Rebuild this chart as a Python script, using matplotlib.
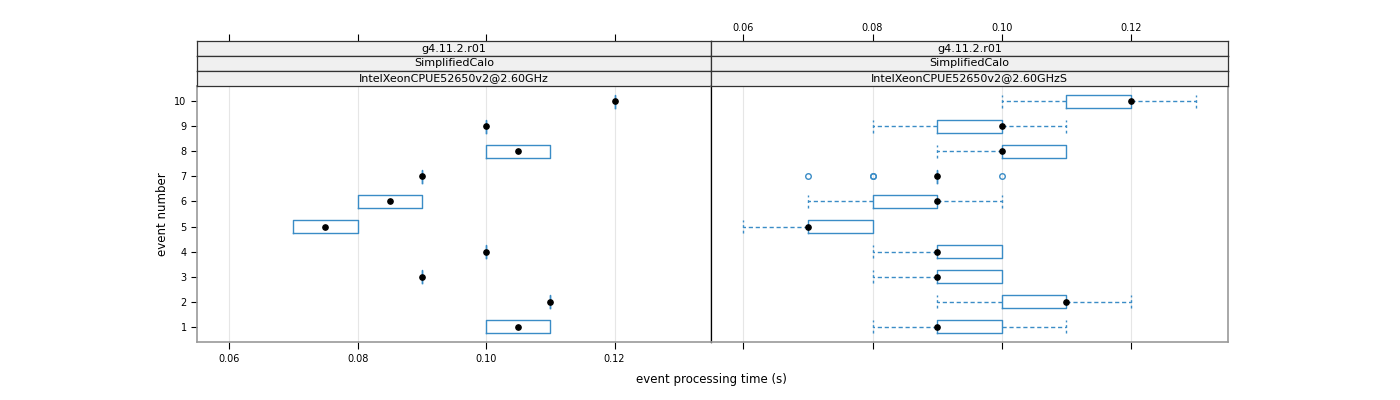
import matplotlib
matplotlib.use("Agg")
import matplotlib.pyplot as plt
import numpy as np

events = [1, 2, 3, 4, 5, 6, 7, 8, 9, 10]
xticks = [0.06, 0.08, 0.10, 0.12]
strips = ["g4.11.2.r01", "SimplifiedCalo"]
machines = ["IntelXeonCPUE52650v2@2.60GHz", "IntelXeonCPUE52650v2@2.60GHzS"]

# panel 1 (GHz)
p1_whislo = [0.10, 0.11, 0.09, 0.10, 0.07, 0.08, 0.09, 0.10, 0.10, 0.12]
p1_q1     = [0.10, 0.11, 0.09, 0.10, 0.07, 0.08, 0.09, 0.10, 0.10, 0.12]
p1_med    = [0.105, 0.11, 0.09, 0.10, 0.075, 0.085, 0.09, 0.105, 0.10, 0.12]
p1_q3     = [0.11, 0.11, 0.09, 0.10, 0.08, 0.09, 0.09, 0.11, 0.10, 0.12]
p1_whishi = [0.11, 0.11, 0.09, 0.10, 0.08, 0.09, 0.09, 0.11, 0.10, 0.12]
p1_fliers = [[], [], [], [], [], [], [], [], [], []]

# panel 2 (GHzS)
p2_whislo = [0.08, 0.09, 0.08, 0.08, 0.06, 0.07, 0.09, 0.09, 0.08, 0.10]
p2_q1     = [0.09, 0.10, 0.09, 0.09, 0.07, 0.08, 0.09, 0.10, 0.09, 0.11]
p2_med    = [0.09, 0.11, 0.09, 0.09, 0.07, 0.09, 0.09, 0.10, 0.10, 0.12]
p2_q3     = [0.10, 0.11, 0.10, 0.10, 0.08, 0.09, 0.09, 0.11, 0.10, 0.12]
p2_whishi = [0.11, 0.12, 0.10, 0.10, 0.08, 0.10, 0.09, 0.11, 0.11, 0.13]
p2_fliers = [[], [], [], [], [], [], [0.07, 0.08, 0.08, 0.10], [], [], []]

blue = "#3a8cc6"
border = "#9a9a9a"

fig = plt.figure(figsize=(14, 4), dpi=100)
W, H = 1400.0, 400.0
x0, xm, x1 = 197, 711, 1228
ytop, ybot = 86, 342
strip_h = 15

panels = [
    (x0, xm, p1_whislo, p1_q1, p1_med, p1_q3, p1_whishi, p1_fliers, machines[0], "bottom"),
    (xm, x1, p2_whislo, p2_q1, p2_med, p2_q3, p2_whishi, p2_fliers, machines[1], "top"),
]

for i, (l, r, wlo, q1, med, q3, whi, fl, mach, labside) in enumerate(panels):
    ax = fig.add_axes([l / W, 1 - ybot / H, (r - l) / W, (ybot - ytop) / H])
    stats = []
    for k in range(len(events)):
        stats.append({"whislo": wlo[k], "q1": q1[k], "med": med[k], "q3": q3[k],
                      "whishi": whi[k], "fliers": fl[k]})
    ax.bxp(stats, positions=events, vert=False, widths=0.52, showcaps=False,
           boxprops=dict(color=blue, lw=1.0),
           whiskerprops=dict(color=blue, lw=1.0, ls=(0, (3, 2))),
           medianprops=dict(lw=0),
           flierprops=dict(marker="o", mfc="none", mec=blue, ms=4, mew=1.0))
    # lattice-style dashed staples at whisker ends
    for k in range(len(events)):
        if whi[k] > q3[k]:
            ax.vlines(whi[k], events[k] - 0.26, events[k] + 0.26, color=blue, lw=1.0, ls=(0, (2, 2)))
        if wlo[k] < q1[k]:
            ax.vlines(wlo[k], events[k] - 0.26, events[k] + 0.26, color=blue, lw=1.0, ls=(0, (2, 2)))
    ax.plot(med, events, "o", color="black", ms=3.8, zorder=5)
    ax.set_xlim(0.055, 0.135)
    ax.set_ylim(0.4, 10.6)
    for t in xticks:
        ax.axvline(t, color="#e6e6e6", lw=0.8, zorder=0)
    ax.set_xticks(xticks)
    ax.set_xticklabels(["%.2f" % t for t in xticks], fontsize=7)
    ax.tick_params(axis="x", top=False, bottom=True, direction="out", length=5, width=0.8,
                   labeltop=False, labelbottom=(labside == "bottom"), pad=4)
    # top axis sits above the strips, as in lattice
    loc = 1 + 3 * strip_h / (ybot - ytop)
    sec = ax.secondary_xaxis(loc)
    sec.set_xticks(xticks)
    sec.set_xticklabels(["%.2f" % t for t in xticks], fontsize=7)
    sec.tick_params(axis="x", direction="out", length=5, width=0.8, pad=1,
                    labeltop=(labside == "top"))
    sec.spines["top"].set_visible(False)
    if i == 0:
        ax.set_yticks(events)
        ax.set_yticklabels([str(e) for e in events], fontsize=7)
        ax.tick_params(axis="y", left=True, right=False, direction="out", length=4, width=0.8)
        ax.set_ylabel("event number", fontsize=8.5)
    else:
        ax.set_yticks(events)
        ax.tick_params(axis="y", left=False, right=False, labelleft=False)
    for s in ax.spines.values():
        s.set_color(border)
        s.set_linewidth(1.2)
    if i == 0:
        ax.spines["right"].set_color("black")
        ax.spines["right"].set_linewidth(0.9)
    else:
        ax.spines["left"].set_color("black")
        ax.spines["left"].set_linewidth(0.9)
    # strips
    labels = strips + [mach]
    for j, txt in enumerate(labels):
        top = ytop - strip_h * (3 - j)
        sax = fig.add_axes([l / W, 1 - (top + strip_h) / H, (r - l) / W, strip_h / H])
        sax.set_facecolor("#f0f0f0")
        sax.set_xticks([])
        sax.set_yticks([])
        for s in sax.spines.values():
            s.set_color("#333333")
            s.set_linewidth(0.9)
        sax.text(0.5, 0.5, txt, ha="center", va="center", fontsize=8, transform=sax.transAxes)

fig.text(xm / W, 1 - 380 / H, "event processing time (s)", ha="center", va="center", fontsize=8.5)
fig.savefig("out.png", dpi=100)
